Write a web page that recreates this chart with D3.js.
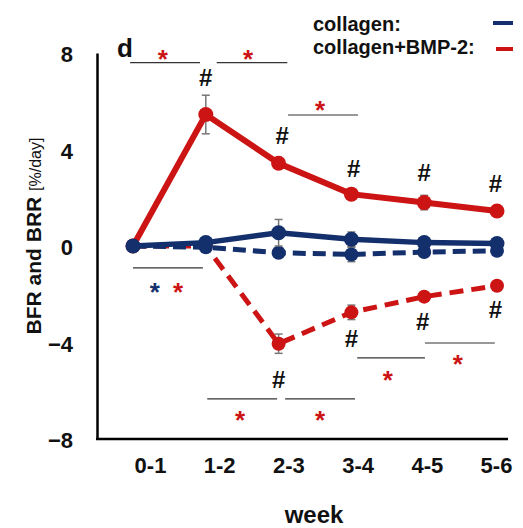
<!DOCTYPE html>
<html>
<head>
<meta charset="utf-8">
<script src="https://cdn.jsdelivr.net/npm/d3@7"></script>
<style>
  body { margin: 0; background: #fff; }
  text { font-family: 'Liberation Sans', Arial, sans-serif; }
</style>
</head>
<body>
<div id="main"></div>
<script>
/*********************************************************
 * Data
 *********************************************************/
const weeks = ['0-1', '1-2', '2-3', '3-4', '4-5', '5-6'];
const yTicks = [-8, -4, 0, 4, 8];

// collagen (blue): BFR solid, BRR dashed
const bfrCollagen = [0, 0.14, 0.55, 0.28, 0.14, 0.1];
const bfrCollagenErr = [0, 0.1, 0.55, 0.3, 0.15, 0.1];
const brrCollagen = [0, -0.05, -0.28, -0.35, -0.25, -0.2];
const brrCollagenErr = [0, 0.05, 0.15, 0.3, 0.15, 0.1];

// collagen+BMP-2 (red): BFR solid, BRR dashed
const bfrBmp = [0, 5.45, 3.43, 2.15, 1.8, 1.45];
const bfrBmpErr = [0, 0.8, 0.15, 0.2, 0.3, 0.15];
const brrBmp = [0, 0, -4.05, -2.75, -2.1, -1.65];
const brrBmpErr = [0, 0.05, 0.4, 0.3, 0.15, 0.1];

// significance bars: [from week index, to week index, value]
const sigBars = [
  [-0.04, 0.92, 7.6], [1.15, 2.12, 7.6], [2.13, 3.09, 5.43],
  [0, 0.96, -0.91], [1.02, 1.98, -6.34], [2.09, 3.05, -6.34],
  [3.08, 4.01, -4.64], [4.01, 4.97, -4.02]
];
// asterisks: [week index, value, group]
const stars = [
  [0.41, 8.04, 'bmp'], [1.58, 8.04, 'bmp'], [2.57, 5.93, 'bmp'],
  [0.3, -1.62, 'col'], [0.62, -1.62, 'bmp'],
  [1.47, -6.92, 'bmp'], [2.57, -6.92, 'bmp'],
  [3.5, -5.26, 'bmp'], [4.46, -4.6, 'bmp']
];
// hashes: [week index, value]
const hashes = [
  [1, 7.0], [2.05, 4.6], [3.03, 3.23], [4, 3.07], [4.98, 2.6],
  [2, -5.51], [3, -3.81], [3.98, -3.11], [4.98, -2.61]
];

const blue = '#14306c';
const red = '#cc1414';

/*********************************************************
 * Layout
 *********************************************************/
const svgWidth = 523;
const svgHeight = 528;

const svg = d3
  .select('#main')
  .append('svg')
  .attr('width', svgWidth)
  .attr('height', svgHeight);

const x = d3.scalePoint().domain(weeks).range([133, 497]);
const xi = d3.scaleLinear().domain([0, 5]).range([133, 497]);
const xLabel = d3.scalePoint().domain(weeks).range([150, 496]);
const y = d3.scaleLinear().domain([-8, 8]).range([439, 53]);

// Axes
const yAxis = d3.axisLeft(y).tickValues(yTicks).tickSize(0).tickPadding(24);
svg
  .append('g')
  .attr('transform', 'translate(97,0)')
  .call(yAxis)
  .call(g => g.select('.domain').attr('stroke', '#000').attr('stroke-width', 2.5))
  .call(g => g.selectAll('text')
    .attr('font-size', 22)
    .attr('font-weight', 'bold')
    .attr('fill', '#111')
    .attr('dy', '0.4em'));

svg
  .append('line')
  .attr('x1', 96)
  .attr('x2', 508)
  .attr('y1', y(-8))
  .attr('y2', y(-8))
  .attr('stroke', '#000')
  .attr('stroke-width', 2.5);

const xAxis = d3.axisBottom(xLabel).tickSize(0).tickPadding(18);
svg
  .append('g')
  .attr('transform', 'translate(0,' + y(-8) + ')')
  .call(xAxis)
  .call(g => g.select('.domain').remove())
  .call(g => g.selectAll('text')
    .attr('font-size', 22)
    .attr('font-weight', 'bold')
    .attr('fill', '#111'));

// Axis titles
svg
  .append('text')
  .attr('x', 314)
  .attr('y', 523)
  .attr('text-anchor', 'middle')
  .attr('font-size', 24)
  .attr('font-weight', 'bold')
  .attr('fill', '#111')
  .text('week');

const yTitle = svg
  .append('text')
  .attr('transform', 'translate(41,236) rotate(-90)')
  .attr('text-anchor', 'middle')
  .attr('font-size', 21)
  .attr('font-weight', 'bold')
  .attr('fill', '#111');
yTitle.append('tspan').text('BFR and BRR ');
yTitle.append('tspan').attr('font-size', 16).attr('font-weight', 'normal').text('[%/day]');

// panel letter
svg
  .append('text')
  .attr('x', 117)
  .attr('y', 57)
  .attr('font-size', 26)
  .attr('font-weight', 'bold')
  .attr('fill', '#111')
  .text('d');

/*********************************************************
 * Series
 *********************************************************/
const series = [
  { values: bfrBmp, err: bfrBmpErr, color: red, dash: null, width: 6, r: 7.5 },
  { values: brrBmp, err: brrBmpErr, color: red, dash: '14,8', width: 5, r: 7 },
  { values: brrCollagen, err: brrCollagenErr, color: blue, dash: '13,7', width: 5, r: 7 },
  { values: bfrCollagen, err: bfrCollagenErr, color: blue, dash: null, width: 5.5, r: 7.5 }
];

const line = d3
  .line()
  .x((d, i) => x(weeks[i]))
  .y(d => y(d));

series.forEach(s => {
  const g = svg.append('g');

  // error bars
  s.values.forEach((v, i) => {
    if (!s.err[i]) return;
    const cx = x(weeks[i]);
    const y0 = y(v - s.err[i]);
    const y1 = y(v + s.err[i]);
    g.append('line')
      .attr('x1', cx).attr('x2', cx)
      .attr('y1', y0).attr('y2', y1)
      .attr('stroke', '#777').attr('stroke-width', 1.5);
    [y0, y1].forEach(yy => {
      g.append('line')
        .attr('x1', cx - 4).attr('x2', cx + 4)
        .attr('y1', yy).attr('y2', yy)
        .attr('stroke', '#777').attr('stroke-width', 1.5);
    });
  });

  g.append('path')
    .datum(s.values)
    .attr('d', line)
    .attr('fill', 'none')
    .attr('stroke', s.color)
    .attr('stroke-width', s.width)
    .attr('stroke-dasharray', s.dash);

  g.selectAll('circle')
    .data(s.values)
    .enter()
    .append('circle')
    .attr('cx', (d, i) => x(weeks[i]))
    .attr('cy', d => y(d))
    .attr('r', s.r)
    .attr('fill', s.color);
});

/*********************************************************
 * Significance marks
 *********************************************************/
svg
  .selectAll('.sig')
  .data(sigBars)
  .enter()
  .append('line')
  .attr('class', 'sig')
  .attr('x1', d => xi(d[0]))
  .attr('x2', d => xi(d[1]))
  .attr('y1', d => y(d[2]))
  .attr('y2', d => y(d[2]))
  .attr('stroke', '#333')
  .attr('stroke-width', 1.2);

svg
  .selectAll('.star')
  .data(stars)
  .enter()
  .append('text')
  .attr('class', 'star')
  .attr('x', d => xi(d[0]))
  .attr('y', d => y(d[1]))
  .attr('dy', '0.62em')
  .attr('text-anchor', 'middle')
  .attr('font-size', 26)
  .attr('font-weight', 'bold')
  .attr('fill', d => (d[2] === 'col' ? blue : red))
  .text('*');

svg
  .selectAll('.hash')
  .data(hashes)
  .enter()
  .append('text')
  .attr('class', 'hash')
  .attr('x', d => xi(d[0]))
  .attr('y', d => y(d[1]))
  .attr('dy', '0.36em')
  .attr('text-anchor', 'middle')
  .attr('font-size', 24)
  .attr('font-weight', 'bold')
  .attr('fill', '#111')
  .text('#');

/*********************************************************
 * Legend
 *********************************************************/
const legend = [
  ['collagen:', blue, 31, 23, 493],
  ['collagen+BMP-2:', red, 54, 49, 496]
];
legend.forEach(l => {
  svg.append('text')
    .attr('x', 313)
    .attr('y', l[2])
    .attr('font-size', 20)
    .attr('font-weight', 'bold')
    .attr('fill', '#111')
    .text(l[0]);
  svg.append('line')
    .attr('x1', l[4]).attr('x2', 513)
    .attr('y1', l[3]).attr('y2', l[3])
    .attr('stroke', l[1])
    .attr('stroke-width', 4);
});
</script>
</body>
</html>
